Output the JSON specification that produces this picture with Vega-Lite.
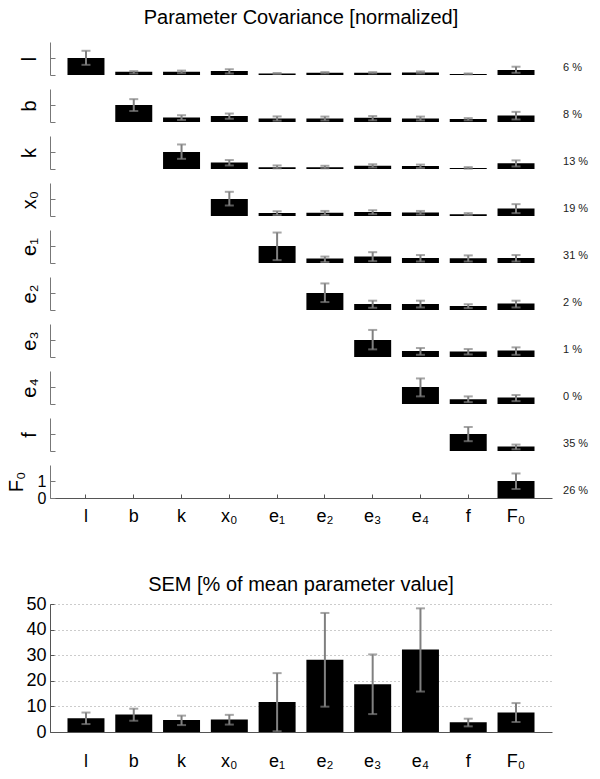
{
  "$schema": "https://vega.github.io/schema/vega-lite/v6.json",
  "padding": {"left": 6, "top": 8, "right": 5, "bottom": 0},
  "background": "white",
  "config": {
    "view": {"stroke": null},
    "font": "Liberation Sans",
    "axis": {"labelFont": "Liberation Sans", "titleFont": "Liberation Sans", "labelColor": "#000", "titleColor": "#000", "titleFontWeight": "normal", "domainColor": "#777", "tickColor": "#777", "grid": false, "labelOverlap": false},
    "title": {"font": "Liberation Sans", "fontWeight": "normal", "fontSize": 20, "color": "#000"}
  },
  "datasets": {
    "cov": [
      {"row": "l", "col": "l", "v": 1, "lo": 0.6, "hi": 1.43, "pct": "6 %"},
      {"row": "l", "col": "b", "v": 0.19, "lo": 0.09, "hi": 0.23},
      {"row": "l", "col": "k", "v": 0.19, "lo": 0.11, "hi": 0.26},
      {"row": "l", "col": "x₀", "v": 0.23, "lo": 0.09, "hi": 0.34},
      {"row": "l", "col": "e₁", "v": 0.09, "lo": 0.06, "hi": 0.12},
      {"row": "l", "col": "e₂", "v": 0.13, "lo": 0.09, "hi": 0.17},
      {"row": "l", "col": "e₃", "v": 0.13, "lo": 0.09, "hi": 0.17},
      {"row": "l", "col": "e₄", "v": 0.15, "lo": 0.09, "hi": 0.21},
      {"row": "l", "col": "f", "v": 0.06, "lo": 0.04, "hi": 0.09},
      {"row": "l", "col": "F₀", "v": 0.3, "lo": 0.13, "hi": 0.49},
      {"row": "b", "col": "b", "v": 1, "lo": 0.65, "hi": 1.35, "pct": "8 %"},
      {"row": "b", "col": "k", "v": 0.27, "lo": 0.12, "hi": 0.4},
      {"row": "b", "col": "x₀", "v": 0.35, "lo": 0.19, "hi": 0.5},
      {"row": "b", "col": "e₁", "v": 0.21, "lo": 0.08, "hi": 0.33},
      {"row": "b", "col": "e₂", "v": 0.21, "lo": 0.09, "hi": 0.32},
      {"row": "b", "col": "e₃", "v": 0.25, "lo": 0.1, "hi": 0.35},
      {"row": "b", "col": "e₄", "v": 0.21, "lo": 0.09, "hi": 0.32},
      {"row": "b", "col": "f", "v": 0.17, "lo": 0.1, "hi": 0.23},
      {"row": "b", "col": "F₀", "v": 0.38, "lo": 0.15, "hi": 0.6},
      {"row": "k", "col": "k", "v": 1, "lo": 0.6, "hi": 1.45, "pct": "13 %"},
      {"row": "k", "col": "x₀", "v": 0.38, "lo": 0.21, "hi": 0.53},
      {"row": "k", "col": "e₁", "v": 0.11, "lo": 0.04, "hi": 0.21},
      {"row": "k", "col": "e₂", "v": 0.11, "lo": 0.04, "hi": 0.19},
      {"row": "k", "col": "e₃", "v": 0.19, "lo": 0.09, "hi": 0.28},
      {"row": "k", "col": "e₄", "v": 0.17, "lo": 0.06, "hi": 0.26},
      {"row": "k", "col": "f", "v": 0.06, "lo": 0.02, "hi": 0.11},
      {"row": "k", "col": "F₀", "v": 0.34, "lo": 0.15, "hi": 0.51},
      {"row": "x₀", "col": "x₀", "v": 1, "lo": 0.62, "hi": 1.43, "pct": "19 %"},
      {"row": "x₀", "col": "e₁", "v": 0.17, "lo": 0.06, "hi": 0.28},
      {"row": "x₀", "col": "e₂", "v": 0.19, "lo": 0.06, "hi": 0.3},
      {"row": "x₀", "col": "e₃", "v": 0.23, "lo": 0.11, "hi": 0.34},
      {"row": "x₀", "col": "e₄", "v": 0.21, "lo": 0.09, "hi": 0.3},
      {"row": "x₀", "col": "f", "v": 0.11, "lo": 0.06, "hi": 0.17},
      {"row": "x₀", "col": "F₀", "v": 0.45, "lo": 0.17, "hi": 0.7},
      {"row": "e₁", "col": "e₁", "v": 1, "lo": 0.17, "hi": 1.8, "pct": "31 %"},
      {"row": "e₁", "col": "e₂", "v": 0.26, "lo": 0.06, "hi": 0.38},
      {"row": "e₁", "col": "e₃", "v": 0.38, "lo": 0.11, "hi": 0.64},
      {"row": "e₁", "col": "e₄", "v": 0.3, "lo": 0.09, "hi": 0.47},
      {"row": "e₁", "col": "f", "v": 0.28, "lo": 0.09, "hi": 0.45},
      {"row": "e₁", "col": "F₀", "v": 0.3, "lo": 0.09, "hi": 0.47},
      {"row": "e₂", "col": "e₂", "v": 1, "lo": 0.47, "hi": 1.57, "pct": "2 %"},
      {"row": "e₂", "col": "e₃", "v": 0.36, "lo": 0.13, "hi": 0.55},
      {"row": "e₂", "col": "e₄", "v": 0.36, "lo": 0.15, "hi": 0.55},
      {"row": "e₂", "col": "f", "v": 0.23, "lo": 0.11, "hi": 0.34},
      {"row": "e₂", "col": "F₀", "v": 0.38, "lo": 0.15, "hi": 0.55},
      {"row": "e₃", "col": "e₃", "v": 1, "lo": 0.45, "hi": 1.6, "pct": "1 %"},
      {"row": "e₃", "col": "e₄", "v": 0.36, "lo": 0.13, "hi": 0.53},
      {"row": "e₃", "col": "f", "v": 0.32, "lo": 0.15, "hi": 0.47},
      {"row": "e₃", "col": "F₀", "v": 0.38, "lo": 0.13, "hi": 0.57},
      {"row": "e₄", "col": "e₄", "v": 1, "lo": 0.45, "hi": 1.51, "pct": "0 %"},
      {"row": "e₄", "col": "f", "v": 0.28, "lo": 0.11, "hi": 0.45},
      {"row": "e₄", "col": "F₀", "v": 0.38, "lo": 0.17, "hi": 0.53},
      {"row": "f", "col": "f", "v": 1, "lo": 0.58, "hi": 1.42, "pct": "35 %"},
      {"row": "f", "col": "F₀", "v": 0.27, "lo": 0.1, "hi": 0.38},
      {"row": "F₀", "col": "F₀", "v": 1, "lo": 0.53, "hi": 1.45, "pct": "26 %"}
    ],
    "sem": [
      {"col": "l", "v": 5.4, "lo": 3.1, "hi": 7.6},
      {"col": "b", "v": 6.8, "lo": 4.4, "hi": 9.1},
      {"col": "k", "v": 4.7, "lo": 2.7, "hi": 6.4},
      {"col": "x₀", "v": 4.9, "lo": 2.9, "hi": 6.7},
      {"col": "e₁", "v": 11.7, "lo": 0.3, "hi": 23.0},
      {"col": "e₂", "v": 28.2, "lo": 9.9, "hi": 46.5},
      {"col": "e₃", "v": 18.7, "lo": 7.0, "hi": 30.3},
      {"col": "e₄", "v": 32.2, "lo": 15.8, "hi": 48.3},
      {"col": "f", "v": 3.8, "lo": 2.2, "hi": 5.2},
      {"col": "F₀", "v": 7.6, "lo": 3.9, "hi": 11.3}
    ]
  },
  "spacing": 50,
  "vconcat": [
    {
      "data": {"name": "cov"},
      "spacing": 13,
      "vconcat": [
        {
          "title": {"text": "Parameter Covariance [normalized]", "frame": "group", "anchor": "middle", "offset": 14},
          "transform": [{"filter": "datum.row === 'l'"}],
          "width": 502, "height": 33,
          "encoding": {"x": {"field": "col", "type": "nominal", "sort": null, "scale": {"domain": ["l", "b", "k", "x₀", "e₁", "e₂", "e₃", "e₄", "f", "F₀"], "paddingInner": 0.226, "paddingOuter": 0.366}, "axis": null}},
          "layer": [
            {"mark": {"type": "bar", "color": "#000"}, "encoding": {"y": {"field": "v", "type": "quantitative", "title": "l", "scale": {"domain": [0, 1.95], "nice": false}, "axis": {"values": [0, 1], "labels": false, "tickSize": -5, "titleFontSize": 20, "titlePadding": 10}}}},
            {"mark": {"type": "errorbar", "color": "#808080", "thickness": 2, "ticks": {"size": 9, "thickness": 2, "color": "#808080"}}, "encoding": {"y": {"field": "lo", "type": "quantitative", "title": "l", "axis": {"values": [0, 1], "labels": false, "tickSize": -5, "titleFontSize": 20, "titlePadding": 10}}, "y2": {"field": "hi"}}},
            {"transform": [{"filter": "isValid(datum.pct)"}], "mark": {"type": "text", "align": "left", "baseline": "middle", "dx": 47, "fontSize": 11, "color": "#222"}, "encoding": {"x": {"datum": "F₀"}, "y": {"datum": 0.42, "title": "l"}, "text": {"field": "pct"}}}
          ]
        },
        {
          "transform": [{"filter": "datum.row === 'b'"}],
          "width": 502, "height": 33,
          "encoding": {"x": {"field": "col", "type": "nominal", "sort": null, "scale": {"domain": ["l", "b", "k", "x₀", "e₁", "e₂", "e₃", "e₄", "f", "F₀"], "paddingInner": 0.226, "paddingOuter": 0.366}, "axis": null}},
          "layer": [
            {"mark": {"type": "bar", "color": "#000"}, "encoding": {"y": {"field": "v", "type": "quantitative", "title": "b", "scale": {"domain": [0, 1.95], "nice": false}, "axis": {"values": [0, 1], "labels": false, "tickSize": -5, "titleFontSize": 20, "titlePadding": 10}}}},
            {"mark": {"type": "errorbar", "color": "#808080", "thickness": 2, "ticks": {"size": 9, "thickness": 2, "color": "#808080"}}, "encoding": {"y": {"field": "lo", "type": "quantitative", "title": "b", "axis": {"values": [0, 1], "labels": false, "tickSize": -5, "titleFontSize": 20, "titlePadding": 10}}, "y2": {"field": "hi"}}},
            {"transform": [{"filter": "isValid(datum.pct)"}], "mark": {"type": "text", "align": "left", "baseline": "middle", "dx": 47, "fontSize": 11, "color": "#222"}, "encoding": {"x": {"datum": "F₀"}, "y": {"datum": 0.42, "title": "b"}, "text": {"field": "pct"}}}
          ]
        },
        {
          "transform": [{"filter": "datum.row === 'k'"}],
          "width": 502, "height": 33,
          "encoding": {"x": {"field": "col", "type": "nominal", "sort": null, "scale": {"domain": ["l", "b", "k", "x₀", "e₁", "e₂", "e₃", "e₄", "f", "F₀"], "paddingInner": 0.226, "paddingOuter": 0.366}, "axis": null}},
          "layer": [
            {"mark": {"type": "bar", "color": "#000"}, "encoding": {"y": {"field": "v", "type": "quantitative", "title": "k", "scale": {"domain": [0, 1.95], "nice": false}, "axis": {"values": [0, 1], "labels": false, "tickSize": -5, "titleFontSize": 20, "titlePadding": 10}}}},
            {"mark": {"type": "errorbar", "color": "#808080", "thickness": 2, "ticks": {"size": 9, "thickness": 2, "color": "#808080"}}, "encoding": {"y": {"field": "lo", "type": "quantitative", "title": "k", "axis": {"values": [0, 1], "labels": false, "tickSize": -5, "titleFontSize": 20, "titlePadding": 10}}, "y2": {"field": "hi"}}},
            {"transform": [{"filter": "isValid(datum.pct)"}], "mark": {"type": "text", "align": "left", "baseline": "middle", "dx": 47, "fontSize": 11, "color": "#222"}, "encoding": {"x": {"datum": "F₀"}, "y": {"datum": 0.42, "title": "k"}, "text": {"field": "pct"}}}
          ]
        },
        {
          "transform": [{"filter": "datum.row === 'x₀'"}],
          "width": 502, "height": 33,
          "encoding": {"x": {"field": "col", "type": "nominal", "sort": null, "scale": {"domain": ["l", "b", "k", "x₀", "e₁", "e₂", "e₃", "e₄", "f", "F₀"], "paddingInner": 0.226, "paddingOuter": 0.366}, "axis": null}},
          "layer": [
            {"mark": {"type": "bar", "color": "#000"}, "encoding": {"y": {"field": "v", "type": "quantitative", "title": "x₀", "scale": {"domain": [0, 1.95], "nice": false}, "axis": {"values": [0, 1], "labels": false, "tickSize": -5, "titleFontSize": 20, "titlePadding": 10}}}},
            {"mark": {"type": "errorbar", "color": "#808080", "thickness": 2, "ticks": {"size": 9, "thickness": 2, "color": "#808080"}}, "encoding": {"y": {"field": "lo", "type": "quantitative", "title": "x₀", "axis": {"values": [0, 1], "labels": false, "tickSize": -5, "titleFontSize": 20, "titlePadding": 10}}, "y2": {"field": "hi"}}},
            {"transform": [{"filter": "isValid(datum.pct)"}], "mark": {"type": "text", "align": "left", "baseline": "middle", "dx": 47, "fontSize": 11, "color": "#222"}, "encoding": {"x": {"datum": "F₀"}, "y": {"datum": 0.42, "title": "x₀"}, "text": {"field": "pct"}}}
          ]
        },
        {
          "transform": [{"filter": "datum.row === 'e₁'"}],
          "width": 502, "height": 33,
          "encoding": {"x": {"field": "col", "type": "nominal", "sort": null, "scale": {"domain": ["l", "b", "k", "x₀", "e₁", "e₂", "e₃", "e₄", "f", "F₀"], "paddingInner": 0.226, "paddingOuter": 0.366}, "axis": null}},
          "layer": [
            {"mark": {"type": "bar", "color": "#000"}, "encoding": {"y": {"field": "v", "type": "quantitative", "title": "e₁", "scale": {"domain": [0, 1.95], "nice": false}, "axis": {"values": [0, 1], "labels": false, "tickSize": -5, "titleFontSize": 20, "titlePadding": 10}}}},
            {"mark": {"type": "errorbar", "color": "#808080", "thickness": 2, "ticks": {"size": 9, "thickness": 2, "color": "#808080"}}, "encoding": {"y": {"field": "lo", "type": "quantitative", "title": "e₁", "axis": {"values": [0, 1], "labels": false, "tickSize": -5, "titleFontSize": 20, "titlePadding": 10}}, "y2": {"field": "hi"}}},
            {"transform": [{"filter": "isValid(datum.pct)"}], "mark": {"type": "text", "align": "left", "baseline": "middle", "dx": 47, "fontSize": 11, "color": "#222"}, "encoding": {"x": {"datum": "F₀"}, "y": {"datum": 0.42, "title": "e₁"}, "text": {"field": "pct"}}}
          ]
        },
        {
          "transform": [{"filter": "datum.row === 'e₂'"}],
          "width": 502, "height": 33,
          "encoding": {"x": {"field": "col", "type": "nominal", "sort": null, "scale": {"domain": ["l", "b", "k", "x₀", "e₁", "e₂", "e₃", "e₄", "f", "F₀"], "paddingInner": 0.226, "paddingOuter": 0.366}, "axis": null}},
          "layer": [
            {"mark": {"type": "bar", "color": "#000"}, "encoding": {"y": {"field": "v", "type": "quantitative", "title": "e₂", "scale": {"domain": [0, 1.95], "nice": false}, "axis": {"values": [0, 1], "labels": false, "tickSize": -5, "titleFontSize": 20, "titlePadding": 10}}}},
            {"mark": {"type": "errorbar", "color": "#808080", "thickness": 2, "ticks": {"size": 9, "thickness": 2, "color": "#808080"}}, "encoding": {"y": {"field": "lo", "type": "quantitative", "title": "e₂", "axis": {"values": [0, 1], "labels": false, "tickSize": -5, "titleFontSize": 20, "titlePadding": 10}}, "y2": {"field": "hi"}}},
            {"transform": [{"filter": "isValid(datum.pct)"}], "mark": {"type": "text", "align": "left", "baseline": "middle", "dx": 47, "fontSize": 11, "color": "#222"}, "encoding": {"x": {"datum": "F₀"}, "y": {"datum": 0.42, "title": "e₂"}, "text": {"field": "pct"}}}
          ]
        },
        {
          "transform": [{"filter": "datum.row === 'e₃'"}],
          "width": 502, "height": 33,
          "encoding": {"x": {"field": "col", "type": "nominal", "sort": null, "scale": {"domain": ["l", "b", "k", "x₀", "e₁", "e₂", "e₃", "e₄", "f", "F₀"], "paddingInner": 0.226, "paddingOuter": 0.366}, "axis": null}},
          "layer": [
            {"mark": {"type": "bar", "color": "#000"}, "encoding": {"y": {"field": "v", "type": "quantitative", "title": "e₃", "scale": {"domain": [0, 1.95], "nice": false}, "axis": {"values": [0, 1], "labels": false, "tickSize": -5, "titleFontSize": 20, "titlePadding": 10}}}},
            {"mark": {"type": "errorbar", "color": "#808080", "thickness": 2, "ticks": {"size": 9, "thickness": 2, "color": "#808080"}}, "encoding": {"y": {"field": "lo", "type": "quantitative", "title": "e₃", "axis": {"values": [0, 1], "labels": false, "tickSize": -5, "titleFontSize": 20, "titlePadding": 10}}, "y2": {"field": "hi"}}},
            {"transform": [{"filter": "isValid(datum.pct)"}], "mark": {"type": "text", "align": "left", "baseline": "middle", "dx": 47, "fontSize": 11, "color": "#222"}, "encoding": {"x": {"datum": "F₀"}, "y": {"datum": 0.42, "title": "e₃"}, "text": {"field": "pct"}}}
          ]
        },
        {
          "transform": [{"filter": "datum.row === 'e₄'"}],
          "width": 502, "height": 33,
          "encoding": {"x": {"field": "col", "type": "nominal", "sort": null, "scale": {"domain": ["l", "b", "k", "x₀", "e₁", "e₂", "e₃", "e₄", "f", "F₀"], "paddingInner": 0.226, "paddingOuter": 0.366}, "axis": null}},
          "layer": [
            {"mark": {"type": "bar", "color": "#000"}, "encoding": {"y": {"field": "v", "type": "quantitative", "title": "e₄", "scale": {"domain": [0, 1.95], "nice": false}, "axis": {"values": [0, 1], "labels": false, "tickSize": -5, "titleFontSize": 20, "titlePadding": 10}}}},
            {"mark": {"type": "errorbar", "color": "#808080", "thickness": 2, "ticks": {"size": 9, "thickness": 2, "color": "#808080"}}, "encoding": {"y": {"field": "lo", "type": "quantitative", "title": "e₄", "axis": {"values": [0, 1], "labels": false, "tickSize": -5, "titleFontSize": 20, "titlePadding": 10}}, "y2": {"field": "hi"}}},
            {"transform": [{"filter": "isValid(datum.pct)"}], "mark": {"type": "text", "align": "left", "baseline": "middle", "dx": 47, "fontSize": 11, "color": "#222"}, "encoding": {"x": {"datum": "F₀"}, "y": {"datum": 0.42, "title": "e₄"}, "text": {"field": "pct"}}}
          ]
        },
        {
          "transform": [{"filter": "datum.row === 'f'"}],
          "width": 502, "height": 33,
          "encoding": {"x": {"field": "col", "type": "nominal", "sort": null, "scale": {"domain": ["l", "b", "k", "x₀", "e₁", "e₂", "e₃", "e₄", "f", "F₀"], "paddingInner": 0.226, "paddingOuter": 0.366}, "axis": null}},
          "layer": [
            {"mark": {"type": "bar", "color": "#000"}, "encoding": {"y": {"field": "v", "type": "quantitative", "title": "f", "scale": {"domain": [0, 1.95], "nice": false}, "axis": {"values": [0, 1], "labels": false, "tickSize": -5, "titleFontSize": 20, "titlePadding": 10}}}},
            {"mark": {"type": "errorbar", "color": "#808080", "thickness": 2, "ticks": {"size": 9, "thickness": 2, "color": "#808080"}}, "encoding": {"y": {"field": "lo", "type": "quantitative", "title": "f", "axis": {"values": [0, 1], "labels": false, "tickSize": -5, "titleFontSize": 20, "titlePadding": 10}}, "y2": {"field": "hi"}}},
            {"transform": [{"filter": "isValid(datum.pct)"}], "mark": {"type": "text", "align": "left", "baseline": "middle", "dx": 47, "fontSize": 11, "color": "#222"}, "encoding": {"x": {"datum": "F₀"}, "y": {"datum": 0.42, "title": "f"}, "text": {"field": "pct"}}}
          ]
        },
        {
          "transform": [{"filter": "datum.row === 'F₀'"}],
          "width": 502, "height": 33,
          "encoding": {"x": {"field": "col", "type": "nominal", "sort": null, "title": null, "scale": {"domain": ["l", "b", "k", "x₀", "e₁", "e₂", "e₃", "e₄", "f", "F₀"], "paddingInner": 0.226, "paddingOuter": 0.366}, "axis": {"labelAngle": 0, "labelFontSize": 18, "labelPadding": 13, "tickSize": -4, "domainColor": "#555", "tickColor": "#555"}}},
          "layer": [
            {"mark": {"type": "bar", "color": "#000"}, "encoding": {"y": {"field": "v", "type": "quantitative", "title": "F₀", "scale": {"domain": [0, 1.95], "nice": false}, "axis": {"values": [0, 1], "labelFontSize": 16, "labelPadding": 9, "tickSize": -5, "titleFontSize": 20, "titlePadding": 11}}}},
            {"mark": {"type": "errorbar", "color": "#808080", "thickness": 2, "ticks": {"size": 9, "thickness": 2, "color": "#808080"}}, "encoding": {"y": {"field": "lo", "type": "quantitative", "title": "F₀", "axis": {"values": [0, 1], "labelFontSize": 16, "labelPadding": 9, "tickSize": -5, "titleFontSize": 20, "titlePadding": 11}}, "y2": {"field": "hi"}}},
            {"transform": [{"filter": "isValid(datum.pct)"}], "mark": {"type": "text", "align": "left", "baseline": "middle", "dx": 47, "fontSize": 11, "color": "#222"}, "encoding": {"x": {"datum": "F₀"}, "y": {"datum": 0.42, "title": "F₀"}, "text": {"field": "pct"}}}
          ]
        }
      ]
    },
    {
      "data": {"name": "sem"},
      "title": {"text": "SEM [% of mean parameter value]", "frame": "group", "anchor": "middle", "offset": 0},
      "width": 502, "height": 128,
      "encoding": {"x": {"field": "col", "type": "nominal", "sort": null, "title": null, "scale": {"domain": ["l", "b", "k", "x₀", "e₁", "e₂", "e₃", "e₄", "f", "F₀"], "paddingInner": 0.226, "paddingOuter": 0.366}, "axis": {"labelAngle": 0, "labelFontSize": 18, "labelPadding": 24, "tickSize": -4, "domainColor": "#555", "tickColor": "#555"}}},
      "layer": [
        {"mark": {"type": "bar", "color": "#000"}, "encoding": {"y": {"field": "v", "type": "quantitative", "title": null, "scale": {"domain": [0, 50], "nice": false}, "axis": {"values": [0, 10, 20, 30, 40, 50], "labelFontSize": 18, "labelPadding": 8, "tickSize": -4, "grid": true, "gridDash": [1, 3], "gridColor": "#999", "domainColor": "#555", "tickColor": "#555"}}}},
        {"mark": {"type": "errorbar", "color": "#808080", "thickness": 2, "ticks": {"size": 9, "thickness": 2, "color": "#808080"}}, "encoding": {"y": {"field": "lo", "type": "quantitative", "title": null, "axis": {"values": [0, 10, 20, 30, 40, 50], "labelFontSize": 18, "labelPadding": 8, "tickSize": -4, "grid": true, "gridDash": [1, 3], "gridColor": "#999", "domainColor": "#555", "tickColor": "#555"}}, "y2": {"field": "hi"}}}
      ]
    }
  ]
}
